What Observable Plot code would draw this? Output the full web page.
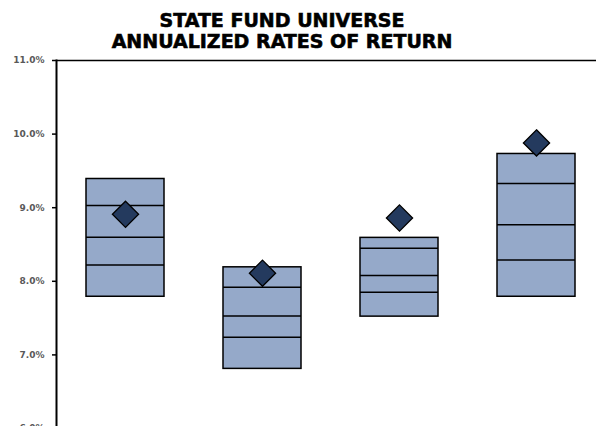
<!DOCTYPE html>
<html>
<head>
<meta charset="utf-8">
<script src="https://cdn.jsdelivr.net/npm/d3@7"></script>
<script src="https://cdn.jsdelivr.net/npm/@observablehq/plot@0.6"></script>
<style>
  html, body { margin: 0; padding: 0; overflow: hidden; background: #fff; }
  #wrap { width: 596px; height: 426px; overflow: hidden; position: relative; }
  #title { width: 564px; height: 40.5px; padding-top: 9.5px; text-align: center;
    font-family: "DejaVu Sans", sans-serif; font-weight: bold; font-size: 19px; line-height: 21px; color: #000;
    -webkit-text-stroke: 0.6px #000; }
  #chart svg { display: block; overflow: visible; max-width: none !important; height: 390px !important; }
  #chart g[aria-label="y-axis tick label"] text { fill: #595959; }
</style>
</head>
<body>
<div id="wrap">
  <div id="title">STATE FUND UNIVERSE<br>ANNUALIZED RATES OF RETURN</div>
  <div id="chart"></div>
</div>
<script>
// Universe groups (no labels shown in the reference)
const groups = ["Group 1", "Group 2", "Group 3", "Group 4"];
// Box top / quartile lines / box bottom (%)
const topValues    = [9.39, 8.19, 8.59, 9.73];
const upperValues  = [9.03, 7.92, 8.45, 9.33];
const medianValues = [8.60, 7.53, 8.08, 8.77];
const lowerValues  = [8.22, 7.24, 7.85, 8.29];
const bottomValues = [7.79, 6.81, 7.52, 7.79];
// State fund return (diamond)
const fundValues   = [8.91, 8.11, 8.86, 9.88];
// Axis ticks
const yTicks = [6, 7, 8, 9, 10, 11];

const boxes = groups.map((g, i) => ({group: g, top: topValues[i], bottom: bottomValues[i]}));
const lines = groups.flatMap((g, i) => [
  {group: g, value: upperValues[i]},
  {group: g, value: medianValues[i]},
  {group: g, value: lowerValues[i]}
]);
const funds = groups.map((g, i) => ({group: g, value: fundValues[i]}));

const chart = Plot.plot({
  width: 606,
  height: 390,
  marginLeft: 56,
  marginRight: 0,
  marginTop: 10,
  marginBottom: 12,
  style: {fontFamily: "DejaVu Sans, sans-serif", fontSize: "9px", fontWeight: "bold", background: "transparent"},
  x: {domain: groups, paddingInner: 0.428, paddingOuter: 0.214, axis: null},
  y: {domain: [6, 11], label: null},
  marks: [
    Plot.barY(boxes, {x: "group", y1: "bottom", y2: "top", fill: "#95A9C9", stroke: "#000", strokeWidth: 1.5}),
    Plot.tickY(lines, {x: "group", y: "value", stroke: "#000", strokeWidth: 1.5}),
    Plot.dot(funds, {x: "group", y: "value", symbol: "diamond2", r: 11.8, fill: "#243A5E", stroke: "#000", strokeWidth: 1.3}),
    Plot.ruleY([11], {stroke: "#000", strokeWidth: 1.5}),
    Plot.axisY({ticks: yTicks, tickFormat: d => d.toFixed(1) + "%", tickSize: 4, tickPadding: 8, stroke: "#000", strokeWidth: 1.5, fontWeight: "bold", fontSize: 9, label: null}),
    Plot.frame({anchor: "left", stroke: "#000", strokeWidth: 2})
  ]
});
document.getElementById("chart").appendChild(chart);
</script>
</body>
</html>
